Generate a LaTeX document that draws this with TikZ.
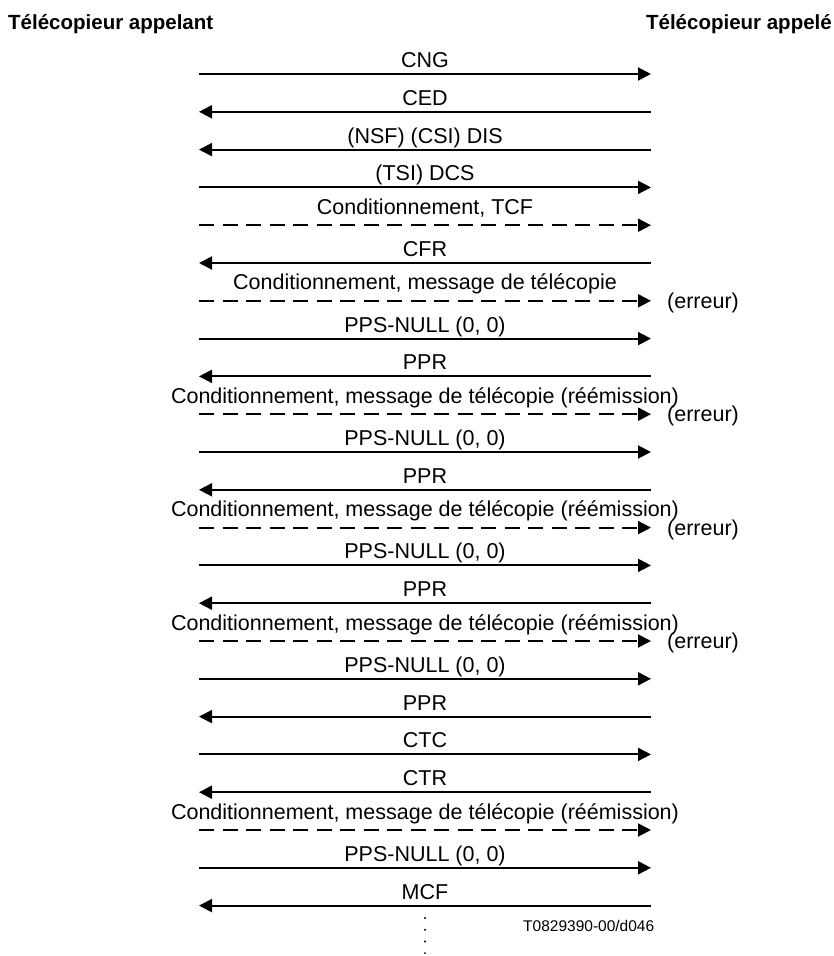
\documentclass[tikz,border=0pt]{standalone}
\usepackage{fontspec}
\setmainfont{Liberation Sans}
\usepackage{tikz}
\usetikzlibrary{arrows.meta}
\newcommand{\cond}{Conditionnement, message de t\'el\'ecopie}

\begin{document}
\begin{tikzpicture}[
  x=1pt, y=-1pt,
  msg/.style={-{Triangle[length=13pt, width=13pt]}, line width=2pt, black},
  fill msg/.style={msg, dash pattern=on 15pt off 8.5pt},
  lab/.style={pos=0.5, anchor=base, yshift=6.5pt, inner sep=0pt,
    font=\fontsize{21.5}{25}\selectfont},
  fill lab/.style={lab, yshift=4.5pt},
  err/.style={anchor=west, inner sep=0pt, xshift=16pt, yshift=-2pt,
    font=\fontsize{21.5}{25}\selectfont},
  head/.style={inner sep=0pt, font=\fontsize{20.5}{24}\selectfont\bfseries}
]
\useasboundingbox (0,0) rectangle (833,956);

% The two terminals
\node[head, anchor=base west] (calling) at (8, 29) {Télécopieur appelant};
\node[head, anchor=base east] (called) at (832, 29) {Télécopieur appelé};

% Message rows (left and right ends)
\foreach \i in {1,...,23} {
  \coordinate (L\i) at (199, {74+(\i-1)*37.8});
  \coordinate (R\i) at (651, {74+(\i-1)*37.8});
}

% Call set-up
\draw[msg] (L1) -- (R1) node[lab] {CNG};
\draw[msg] (R2) -- (L2) node[lab] {CED};
\draw[msg] (R3) -- (L3) node[lab] {(NSF) (CSI) DIS};
\draw[msg] (L4) -- (R4) node[lab] {(TSI) DCS};
\draw[fill msg] (L5) -- (R5) node[fill lab] {Conditionnement, TCF};
\draw[msg] (R6) -- (L6) node[lab] {CFR};

% Message and retransmissions
\draw[fill msg] (L7) -- (R7) node[fill lab] {\cond};
\node[err] (e1) at (R7) {(erreur)};
\draw[msg] (L8) -- (R8) node[lab] {PPS-NULL (0, 0)};
\draw[msg] (R9) -- (L9) node[lab] {PPR};

\draw[fill msg] (L10) -- (R10) node[fill lab] {\cond{} (réémission)};
\node[err] (e2) at (R10) {(erreur)};
\draw[msg] (L11) -- (R11) node[lab] {PPS-NULL (0, 0)};
\draw[msg] (R12) -- (L12) node[lab] {PPR};

\draw[fill msg] (L13) -- (R13) node[fill lab] {\cond{} (réémission)};
\node[err] (e3) at (R13) {(erreur)};
\draw[msg] (L14) -- (R14) node[lab] {PPS-NULL (0, 0)};
\draw[msg] (R15) -- (L15) node[lab] {PPR};

\draw[fill msg] (L16) -- (R16) node[fill lab] {\cond{} (réémission)};
\node[err] (e4) at (R16) {(erreur)};
\draw[msg] (L17) -- (R17) node[lab] {PPS-NULL (0, 0)};
\draw[msg] (R18) -- (L18) node[lab] {PPR};

% Continue to correct
\draw[msg] (L19) -- (R19) node[lab] {CTC};
\draw[msg] (R20) -- (L20) node[lab] {CTR};
\draw[fill msg] (L21) -- (R21) node[fill lab] {\cond{} (réémission)};
\draw[msg] (L22) -- (R22) node[lab] {PPS-NULL (0, 0)};
\draw[msg] (R23) -- (L23) node[lab] {MCF};

% Continuation dots and reference
\coordinate (d1) at (425, 918);
\coordinate (d2) at (425, 956);
\draw[line width=2.2pt, line cap=round, dash pattern=on 0pt off 11.7pt] (d1) -- (d2);
\node[anchor=west, inner sep=0pt, font=\fontsize{15.5}{18}\selectfont] (ref) at (523, 926) {T0829390-00/d046};
\end{tikzpicture}
\end{document}
